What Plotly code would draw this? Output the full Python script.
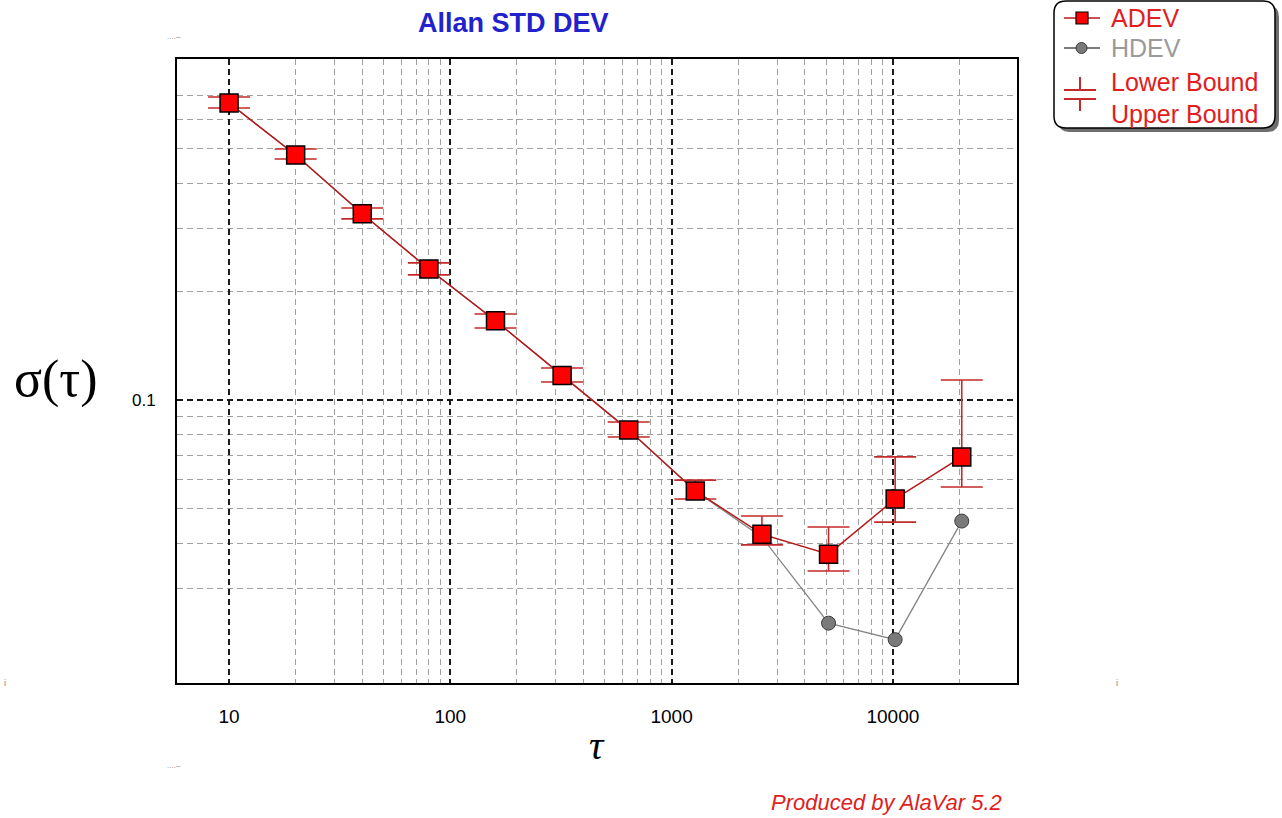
import plotly.graph_objects as go

# ---------------- data ----------------
tau = [10, 20, 40, 80, 160, 320, 640, 1280, 2560, 5120, 10240, 20480]
adev = [0.668, 0.479, 0.329, 0.231, 0.166, 0.117, 0.0825, 0.0559, 0.0424, 0.0373, 0.0531, 0.0695]
adev_upper = [0.694, 0.498, 0.3415, 0.2403, 0.1733, 0.1227, 0.0869, 0.0599, 0.0476, 0.0444, 0.0695, 0.1136]
adev_lower = [0.647, 0.467, 0.3184, 0.2225, 0.1585, 0.1122, 0.0789, 0.0531, 0.0396, 0.0335, 0.0458, 0.0573]
hdev = [0.668, 0.479, 0.329, 0.231, 0.166, 0.117, 0.0825, 0.0559, 0.0416, 0.0240, 0.0216, 0.0461]

x_major_ticks = [10, 100, 1000, 10000]
x_major_text = ["10", "100", "1000", "10000"]
x_minor_ticks = [20, 30, 40, 50, 60, 70, 80, 90,
                 200, 300, 400, 500, 600, 700, 800, 900,
                 2000, 3000, 4000, 5000, 6000, 7000, 8000, 9000,
                 20000]
y_major_ticks = [0.1]
y_major_text = ["0.1"]
y_minor_ticks = [0.03, 0.04, 0.05, 0.06, 0.07, 0.08, 0.09, 0.2, 0.3, 0.4, 0.5, 0.6, 0.7]

# ---------------- geometry helpers (pixel -> paper) ----------------
W, H = 1282, 818
PL, PR, PT, PB = 177, 1017, 59, 683


def X(px):
    return (px - PL) / (PR - PL)


def Y(py):
    return (PB - py) / (PB - PT)


err_plus = [u - c for u, c in zip(adev_upper, adev)]
err_minus = [c - l for c, l in zip(adev, adev_lower)]

fig = go.Figure()

fig.add_trace(go.Scatter(
    x=tau, y=hdev, mode="lines+markers", name="HDEV",
    line=dict(color="#858585", width=1.3),
    marker=dict(symbol="circle", size=14, color="#7a7a7a",
                line=dict(color="#3c3c3c", width=1)),
    showlegend=False,
))

fig.add_trace(go.Scatter(
    x=tau, y=adev, mode="lines+markers", name="ADEV",
    line=dict(color="#b81818", width=1.5),
    marker=dict(symbol="square", size=18, color="#ff0000",
                line=dict(color="#000000", width=1.5)),
    error_y=dict(type="data", symmetric=False, array=err_plus, arrayminus=err_minus,
                 color="#c42a2a", thickness=1.6, width=21),
    showlegend=False,
))

grid_major = dict(showgrid=True, gridcolor="#1a1a1a", griddash="6px,4px", gridwidth=1.5)
grid_minor = dict(tickmode="array", showgrid=True, gridcolor="#a0a0a0",
                  griddash="6px,4px", gridwidth=1.2, ticks="")

fig.update_xaxes(
    type="log", range=[0.7647, 4.561],
    tickmode="array", tickvals=x_major_ticks, ticktext=x_major_text,
    tickfont=dict(family="Liberation Sans", size=19, color="#000000"),
    ticks="", ticklabelstandoff=15,
    showline=True, mirror=True, linecolor="#000000", linewidth=2,
    minor=dict(tickvals=x_minor_ticks, **grid_minor),
    **grid_major,
)
fig.update_yaxes(
    type="log", range=[-1.786, -0.053],
    tickmode="array", tickvals=y_major_ticks, ticktext=y_major_text,
    tickfont=dict(family="Liberation Sans", size=17, color="#000000"),
    ticks="", ticklabelstandoff=16,
    showline=True, mirror=True, linecolor="#000000", linewidth=2,
    minor=dict(tickvals=y_minor_ticks, **grid_minor),
    **grid_major,
)

# ---------------- custom legend (shapes + text) ----------------
shapes = []


def rounded_box(L, R, T, B, r):
    return (f"M {X(L + r)},{Y(T)} L {X(R - r)},{Y(T)} Q {X(R)},{Y(T)} {X(R)},{Y(T + r)} "
            f"L {X(R)},{Y(B - r)} Q {X(R)},{Y(B)} {X(R - r)},{Y(B)} "
            f"L {X(L + r)},{Y(B)} Q {X(L)},{Y(B)} {X(L)},{Y(B - r)} "
            f"L {X(L)},{Y(T + r)} Q {X(L)},{Y(T)} {X(L + r)},{Y(T)} Z")


shapes.append(dict(type="path", xref="paper", yref="paper",
                   path=rounded_box(1058, 1279, 5, 132, 12),
                   fillcolor="#6e6e6e", line=dict(width=0), layer="above"))
shapes.append(dict(type="path", xref="paper", yref="paper",
                   path=rounded_box(1054, 1275, 1, 128, 12),
                   fillcolor="#ffffff", line=dict(color="#000000", width=1.5), layer="above"))


def seg(x0, y0, x1, y1, color, width):
    shapes.append(dict(type="line", xref="paper", yref="paper",
                       x0=X(x0), y0=Y(y0), x1=X(x1), y1=Y(y1),
                       line=dict(color=color, width=width), layer="above"))


# ADEV symbol
seg(1064, 18, 1100, 18, "#b81818", 1.5)
shapes.append(dict(type="rect", xref="paper", yref="paper",
                   x0=X(1076), x1=X(1088), y0=Y(24), y1=Y(12),
                   fillcolor="#ff0000", line=dict(color="#000000", width=1.2), layer="above"))
# HDEV symbol
seg(1064, 48, 1100, 48, "#505050", 1.3)
shapes.append(dict(type="circle", xref="paper", yref="paper",
                   x0=X(1076), x1=X(1087), y0=Y(53.5), y1=Y(42.5),
                   fillcolor="#7a7a7a", line=dict(color="#3c3c3c", width=1), layer="above"))
# bounds symbol
seg(1064, 90, 1096, 90, "#c42a2a", 2)
seg(1080, 77, 1080, 90, "#c42a2a", 2)
seg(1064, 99, 1096, 99, "#c42a2a", 2)
seg(1080, 99, 1080, 111, "#c42a2a", 2)

annotations = []


def txt(text, px, py, size, color, xanchor="left", family="Liberation Sans", **kw):
    annotations.append(dict(text=text, x=X(px), y=Y(py), xref="paper", yref="paper",
                            xanchor=xanchor, yanchor="middle", showarrow=False,
                            font=dict(family=family, size=size, color=color), **kw))


txt("ADEV", 1109, 18, 25, "#e02020")
txt("HDEV", 1109, 48, 25, "#9a9a9a")
txt("Lower Bound", 1109, 82, 25, "#e02020")
txt("Upper Bound", 1109, 114, 25, "#e02020")

# title and axis titles
txt("<b>Allan STD DEV</b>", 513, 23, 27, "#2222cc", xanchor="center")
txt("σ(τ)", 56, 379, 52, "#000000", xanchor="center", family="Liberation Serif")
txt("<i>τ</i>", 597, 745, 40, "#000000", xanchor="center", family="Liberation Serif")
txt("<i>Produced by AlaVar 5.2</i>", 1004, 802, 22, "#e02020", xanchor="right")

# small stray marks of the original rendering
txt("....‒", 174, 37, 8, "#808080", xanchor="center")
txt("....‒", 174, 765, 8, "#808080", xanchor="center")
txt("i", 5, 683, 9, "#808080", xanchor="center")
txt("i", 1117, 683, 9, "#808080", xanchor="center")

fig.update_layout(
    width=W, height=H,
    margin=dict(l=PL, r=W - PR, t=PT, b=H - PB, autoexpand=False),
    paper_bgcolor="#ffffff", plot_bgcolor="#ffffff",
    showlegend=False,
    shapes=shapes, annotations=annotations,
)

fig.write_html("out.html", config={"displayModeBar": False},
               post_script="document.body.style.margin='0px';")
